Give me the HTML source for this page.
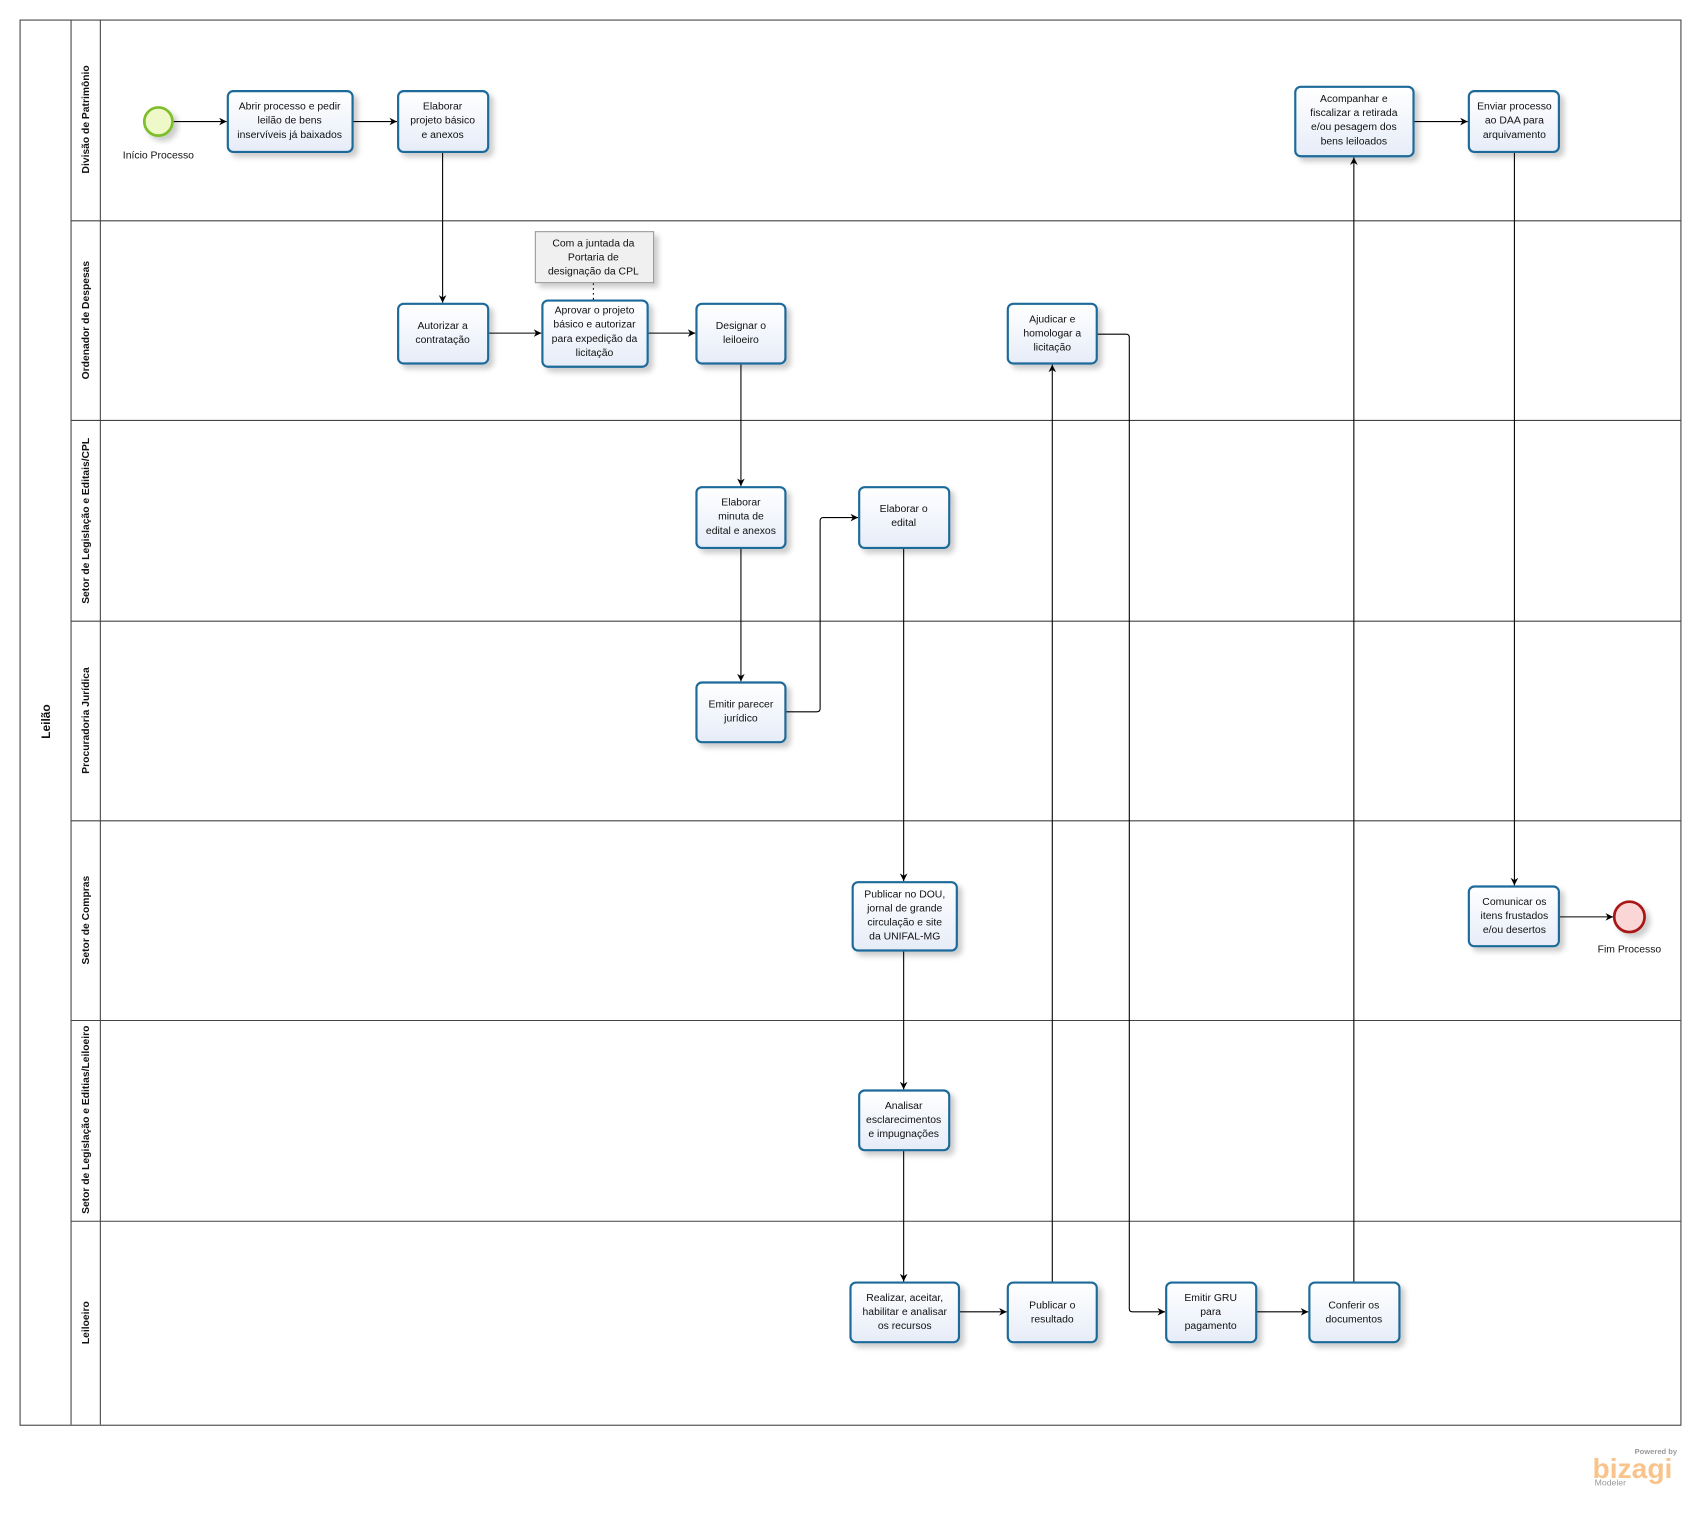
<!DOCTYPE html>
<html><head><meta charset="utf-8"><style>
html,body{margin:0;padding:0;background:#fff;}
svg{display:block;}
text{font-family:"Liberation Sans",sans-serif;fill:#111;}
.t{font-size:9.6px;text-anchor:middle;}
.lh{font-size:9.5px;font-weight:bold;text-anchor:middle;}
</style></head><body>
<svg width="1701" height="1518" viewBox="0 0 1568 1399" preserveAspectRatio="none" xmlns="http://www.w3.org/2000/svg">
<defs>
<marker id="a" viewBox="0 0 10 10" refX="10" refY="5" markerWidth="7" markerHeight="7" orient="auto"><path d="M0,0 L10,5 L0,10 L3,5 z" fill="#000"/></marker>
<linearGradient id="g" x1="0" y1="0" x2="0" y2="1"><stop offset="0" stop-color="#fff"/><stop offset="1" stop-color="#e6ecf8"/></linearGradient>
<filter id="s" x="-20%" y="-20%" width="150%" height="150%"><feDropShadow dx="4" dy="4" stdDeviation="2.5" flood-color="#000" flood-opacity="0.2"/></filter>
</defs>
<!-- pool -->
<rect x="18.5" y="18.5" width="1531" height="1295" fill="#fff" stroke="#444" stroke-width="1"/>
<line x1="65.5" y1="18" x2="65.5" y2="1313" stroke="#444"/>
<line x1="92.5" y1="18" x2="92.5" y2="1313" stroke="#444"/>
<g stroke="#444">
<line x1="65" y1="203.5" x2="1550" y2="203.5"/>
<line x1="65" y1="387.5" x2="1550" y2="387.5"/>
<line x1="65" y1="572.5" x2="1550" y2="572.5"/>
<line x1="65" y1="756.5" x2="1550" y2="756.5"/>
<line x1="65" y1="940.5" x2="1550" y2="940.5"/>
<line x1="65" y1="1125.5" x2="1550" y2="1125.5"/>
</g>
<text transform="translate(46,665) rotate(-90)" style="font-size:11px;font-weight:bold;text-anchor:middle">Leilão</text>
<text class="lh" transform="translate(82,110) rotate(-90)">Divisão de Patrimônio</text>
<text class="lh" transform="translate(82,295) rotate(-90)">Ordenador de Despesas</text>
<text class="lh" transform="translate(82,480) rotate(-90)">Setor de Legislação e Editais/CPL</text>
<text class="lh" transform="translate(82,664) rotate(-90)">Procuradoria Jurídica</text>
<text class="lh" transform="translate(82,848) rotate(-90)">Setor de Compras</text>
<text class="lh" transform="translate(82,1032) rotate(-90)">Setor de Legislação e Editias/Leiloeiro</text>
<text class="lh" transform="translate(82,1219) rotate(-90)">Leiloeiro</text>

<!-- edges -->
<g stroke="#000" stroke-width="1" fill="none" marker-end="url(#a)">
<line x1="159" y1="112" x2="209" y2="112"/>
<line x1="325" y1="112" x2="366" y2="112"/>
<line x1="408" y1="140" x2="408" y2="279"/>
<line x1="450" y1="307" x2="499" y2="307"/>
<line x1="597" y1="307" x2="641" y2="307"/>
<line x1="683" y1="335" x2="683" y2="448"/>
<line x1="683" y1="505" x2="683" y2="628"/>
<path d="M724,656 H753 Q756,656 756,653 V480 Q756,477 759,477 H791"/>
<line x1="833" y1="505" x2="833" y2="812"/>
<line x1="833" y1="876" x2="833" y2="1004"/>
<line x1="833" y1="1060" x2="833" y2="1181"/>
<line x1="884" y1="1209" x2="928" y2="1209"/>
<line x1="970" y1="1182" x2="970" y2="336"/>
<path d="M1011,308 H1038 Q1041,308 1041,311 V1206 Q1041,1209 1044,1209 H1074"/>
<line x1="1158" y1="1209" x2="1206" y2="1209"/>
<line x1="1248" y1="1182" x2="1248" y2="145"/>
<line x1="1303" y1="112" x2="1353" y2="112"/>
<line x1="1396" y1="140" x2="1396" y2="816"/>
<line x1="1437" y1="845" x2="1487" y2="845"/>
</g>
<line x1="547" y1="261" x2="547" y2="277" stroke="#000" stroke-dasharray="1.5,3"/>

<!-- events -->
<circle cx="146" cy="112" r="13" fill="#eef8c8" stroke="#7cbf2a" stroke-width="2.5" filter="url(#s)"/>
<text class="t" x="146" y="146">Início Processo</text>
<circle cx="1502" cy="845" r="14" fill="#fbd6d6" stroke="#a81818" stroke-width="2.5" filter="url(#s)"/>
<text class="t" x="1502" y="878">Fim Processo</text>

<!-- annotation -->
<rect x="493.5" y="213.5" width="109" height="47" fill="#f0f0f0" stroke="#999" filter="url(#s)"/>
<text class="t" x="547" y="227">Com a juntada da</text>
<text class="t" x="547" y="240">Portaria de</text>
<text class="t" x="547" y="253">designação da CPL</text>

<!-- tasks -->
<g fill="url(#g)" stroke="#1e6a9a" stroke-width="2" filter="url(#s)">
<rect x="210" y="84" width="115" height="56" rx="5"/>
<rect x="367" y="84" width="83" height="56" rx="5"/>
<rect x="1194" y="80" width="109" height="64" rx="5"/>
<rect x="1354" y="84" width="83" height="56" rx="5"/>
<rect x="367" y="280" width="83" height="55" rx="5"/>
<rect x="500" y="277" width="97" height="61" rx="5"/>
<rect x="642" y="280" width="82" height="55" rx="5"/>
<rect x="929" y="280" width="82" height="55" rx="5"/>
<rect x="642" y="449" width="82" height="56" rx="5"/>
<rect x="792" y="449" width="83" height="56" rx="5"/>
<rect x="642" y="629" width="82" height="55" rx="5"/>
<rect x="786" y="813" width="96" height="63" rx="5"/>
<rect x="1354" y="817" width="83" height="55" rx="5"/>
<rect x="792" y="1005" width="83" height="55" rx="5"/>
<rect x="784" y="1182" width="100" height="55" rx="5"/>
<rect x="929" y="1182" width="82" height="55" rx="5"/>
<rect x="1075" y="1182" width="83" height="55" rx="5"/>
<rect x="1207" y="1182" width="83" height="55" rx="5"/>
</g>
<g class="t">
<text class="t" x="267" y="101">Abrir processo e pedir</text><text class="t" x="267" y="114">leilão de bens</text><text class="t" x="267" y="127">inservíveis já baixados</text>
<text class="t" x="408" y="101">Elaborar</text><text class="t" x="408" y="114">projeto básico</text><text class="t" x="408" y="127">e anexos</text>
<text class="t" x="1248" y="94">Acompanhar e</text><text class="t" x="1248" y="107">fiscalizar a retirada</text><text class="t" x="1248" y="120">e/ou pesagem dos</text><text class="t" x="1248" y="133">bens leiloados</text>
<text class="t" x="1396" y="101">Enviar processo</text><text class="t" x="1396" y="114">ao DAA para</text><text class="t" x="1396" y="127">arquivamento</text>
<text class="t" x="408" y="303">Autorizar a</text><text class="t" x="408" y="316">contratação</text>
<text class="t" x="548" y="289">Aprovar o projeto</text><text class="t" x="548" y="302">básico e autorizar</text><text class="t" x="548" y="315">para expedição da</text><text class="t" x="548" y="328">licitação</text>
<text class="t" x="683" y="303">Designar o</text><text class="t" x="683" y="316">leiloeiro</text>
<text class="t" x="970" y="297">Ajudicar e</text><text class="t" x="970" y="310">homologar a</text><text class="t" x="970" y="323">licitação</text>
<text class="t" x="683" y="466">Elaborar</text><text class="t" x="683" y="479">minuta de</text><text class="t" x="683" y="492">edital e anexos</text>
<text class="t" x="833" y="472">Elaborar o</text><text class="t" x="833" y="485">edital</text>
<text class="t" x="683" y="652">Emitir parecer</text><text class="t" x="683" y="665">jurídico</text>
<text class="t" x="834" y="827">Publicar no DOU,</text><text class="t" x="834" y="840">jornal de grande</text><text class="t" x="834" y="853">circulação e site</text><text class="t" x="834" y="866">da UNIFAL-MG</text>
<text class="t" x="1396" y="834">Comunicar os</text><text class="t" x="1396" y="847">itens frustados</text><text class="t" x="1396" y="860">e/ou desertos</text>
<text class="t" x="833" y="1022">Analisar</text><text class="t" x="833" y="1035">esclarecimentos</text><text class="t" x="833" y="1048">e impugnações</text>
<text class="t" x="834" y="1199">Realizar, aceitar,</text><text class="t" x="834" y="1212">habilitar e analisar</text><text class="t" x="834" y="1225">os recursos</text>
<text class="t" x="970" y="1206">Publicar o</text><text class="t" x="970" y="1219">resultado</text>
<text class="t" x="1116" y="1199">Emitir GRU</text><text class="t" x="1116" y="1212">para</text><text class="t" x="1116" y="1225">pagamento</text>
<text class="t" x="1248" y="1206">Conferir os</text><text class="t" x="1248" y="1219">documentos</text>
</g>
<!-- logo -->
<text x="1546" y="1340" style="font-size:7px;fill:#999;text-anchor:end;font-weight:bold">Powered by</text>
<text x="1468" y="1362" style="font-size:26px;fill:#f8c48c;font-weight:bold">bizagi</text>
<text x="1470" y="1369" style="font-size:8px;fill:#999">Modeler</text>
</svg>
</body></html>
